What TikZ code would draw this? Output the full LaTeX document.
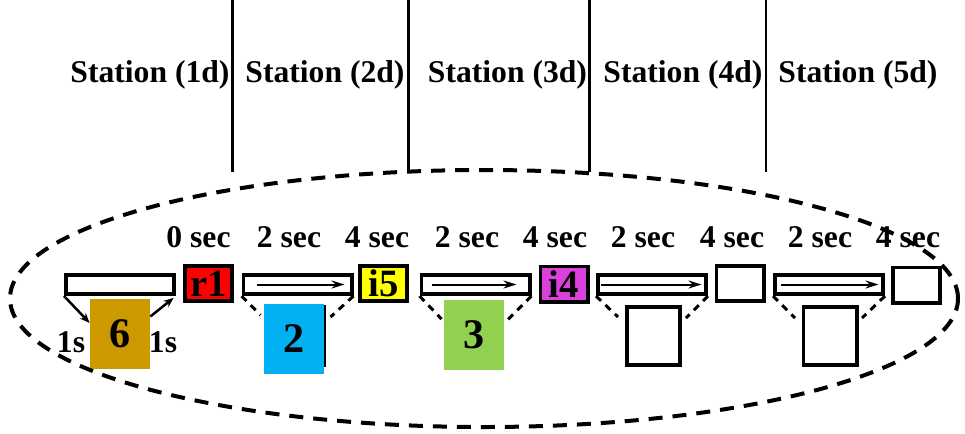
\documentclass[tikz,border=0pt]{standalone}
\usepackage{fontspec}
\setmainfont{Liberation Serif}
\usepackage{tikz}
\usetikzlibrary{arrows.meta}

\definecolor{cred}{RGB}{255,0,0}
\definecolor{cyellow}{RGB}{255,255,0}
\definecolor{cmagenta}{RGB}{218,64,218}
\definecolor{cgold}{RGB}{204,153,0}
\definecolor{ccyan}{RGB}{0,176,240}
\definecolor{cgreen}{RGB}{146,208,80}

\begin{document}
\begin{tikzpicture}[x=0.2mm,y=-0.2mm]
\tikzstyle{hdrtext}=[font=\fontsize{18}{20}\selectfont\bfseries, inner sep=0pt, anchor=base]
\tikzstyle{queuebox}=[draw, line width=0.76mm, minimum width=21.64mm, minimum height=3.84mm, inner sep=0pt]
\tikzstyle{stopbox}=[draw, line width=0.76mm, minimum width=9.44mm, minimum height=7.04mm, inner sep=0pt, font=\fontsize{22}{24}\selectfont\bfseries]
\tikzstyle{jobbox}=[minimum width=12mm, minimum height=14mm, inner sep=0pt, font=\fontsize{24}{26}\selectfont\bfseries]
\tikzstyle{slotbox}=[draw, line width=0.76mm, minimum width=10.64mm, minimum height=11.64mm, inner sep=0pt]
\tikzstyle{flowarrow}=[line width=0.4mm, -{Stealth[length=2.6mm,width=1.6mm]}]
\tikzstyle{funnelline}=[line width=0.6mm, dash pattern=on 1.4mm off 1.2mm]
\useasboundingbox (0,0) rectangle (965,433);

% station borders
\draw[line width=0.54mm] (232.5,0) -- (232.5,172);
\draw[line width=0.54mm] (408.5,0) -- (408.5,172);
\draw[line width=0.54mm] (589.5,0) -- (589.5,172);
\draw[line width=0.54mm] (766,0) -- (766,172);
\node[hdrtext] (st1) at (150,82) {Station (1d)};
\node[hdrtext] (st2) at (325,82) {Station (2d)};
\node[hdrtext] (st3) at (507.5,82) {Station (3d)};
\node[hdrtext] (st4) at (683,82) {Station (4d)};
\node[hdrtext] (st5) at (858,82) {Station (5d)};

% times
\node[hdrtext] (t1) at (198.5,247) {0 sec};
\node[hdrtext] (t2) at (289,247) {2 sec};
\node[hdrtext] (t3) at (377,247) {4 sec};
\node[hdrtext] (t4) at (467,247) {2 sec};
\node[hdrtext] (t5) at (555,247) {4 sec};
\node[hdrtext] (t6) at (643,247) {2 sec};
\node[hdrtext] (t7) at (732,247) {4 sec};
\node[hdrtext] (t8) at (820,247) {2 sec};
\node[hdrtext] (t9) at (908,247) {4 sec};

% queues and stops
\node[queuebox] (q1) at (120,284.5) {};
\node[queuebox] (q2) at (297.5,284.5) {};
\node[queuebox] (q3) at (475.5,284.5) {};
\node[queuebox] (q4) at (652,284.5) {};
\node[queuebox] (q5) at (829,284.5) {};
\node[stopbox, fill=cred] (r1) at (208.5,283.5) {r1};
\node[stopbox, fill=cyellow] (i5) at (383.5,283.5) {i5};
\node[stopbox, fill=cmagenta] (i4) at (564,284) {i4};
\node[stopbox] (e4) at (740,283.5) {};
\node[stopbox] (e5) at (916.5,285) {};

\draw[flowarrow] ([xshift=3mm]q2.west) -- ([xshift=-1.8mm]q2.east);
\draw[flowarrow] ([xshift=2.4mm]q3.west) -- ([xshift=-3mm]q3.east);
\draw[flowarrow] ([xshift=1mm]q4.west) -- ([xshift=-1.3mm]q4.east);
\draw[flowarrow] ([xshift=1.5mm]q5.west) -- ([xshift=-1.3mm]q5.east);

\draw[funnelline] (q2.south west) -- +(19,19);
\draw[funnelline] (q2.south east) -- +(-23,21);
\draw[funnelline] (q3.south west) -- +(22,23);
\draw[funnelline] (q3.south east) -- +(-24,24);
\draw[funnelline] (q4.south west) -- +(22,21);
\draw[funnelline] (q4.south east) -- +(-22,22);
\draw[funnelline] (q5.south west) -- +(22,22);
\draw[funnelline] (q5.south east) -- +(-23,22);

% jobs
\node[jobbox, fill=cgold] (j6) at (120,334) {6};
\node[jobbox, fill=ccyan] (j2) at (294,338.5) {2};
\node[jobbox, fill=cgreen] (j3) at (474,334.5) {3};
\node[slotbox] (s4) at (653.5,336) {};
\node[slotbox] (s5) at (830,336) {};
\draw[line width=0.3mm] ([xshift=0.15mm,yshift=-0.4mm]j2.north east) -- ([xshift=0.15mm,yshift=1.4mm]j2.south east);

\draw[line width=0.5mm, -{Stealth[length=2mm,width=1.6mm]}] (q1.south west) -- (j6.160);
\draw[line width=0.5mm, -{Stealth[length=2mm,width=1.6mm]}, shorten >=0.6mm] (j6.30) -- (q1.south east);
\node[hdrtext] (w1) at (71,352) {1s};
\node[hdrtext] (w2) at (163,352) {1s};

\draw[line width=0.8mm, dash pattern=on 2.8mm off 2mm] (484,298.5) ellipse [x radius=94.8mm, y radius=25.7mm];
\end{tikzpicture}
\end{document}
